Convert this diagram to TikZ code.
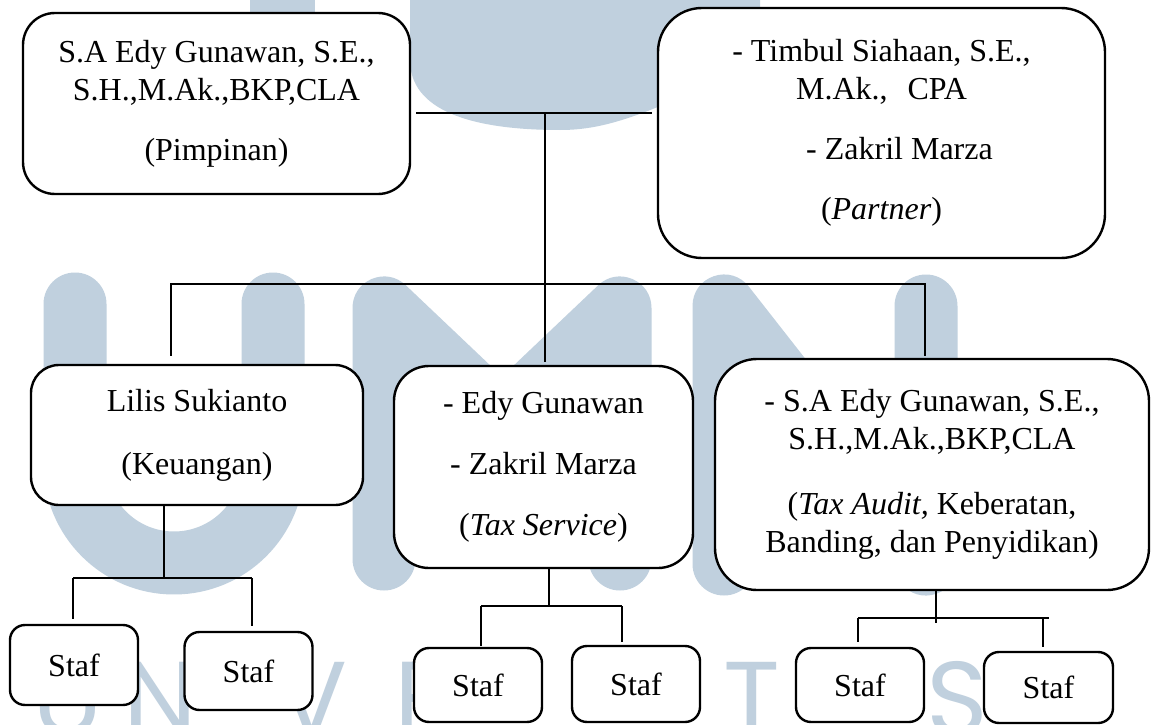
\documentclass[tikz,border=0pt]{standalone}
\usepackage{fontspec}
\setmainfont{Liberation Serif}
\newfontfamily\wmfont{Poppins}
\definecolor{wmblue}{RGB}{192,208,222}
\begin{document}
\begin{tikzpicture}[x=1pt,y=-1pt,
  box/.style={draw=black, line width=2.4pt, fill=white, rounded corners=#1,
    align=center, inner sep=0pt, font=\fontsize{32}{38}\selectfont},
  staf/.style={box=15pt, minimum width=128pt},
  conn/.style={draw=black, line width=1.3pt},
  wmstroke/.style={draw=wmblue, line width=63pt, line cap=round, line join=round},
  wmtext/.style={text=wmblue, font=\wmfont\fontsize{105}{105}\selectfont, anchor=base, inner sep=0pt}]
\clip (0,0) rectangle (1152,725);
\fill[white] (0,0) rectangle (1152,725);
% watermark
\fill[wmblue] (250,0) rectangle (315,30);
\fill[wmblue] (410,0) -- (410,60) .. controls (410,110) and (470,130) .. (560,130)
  .. controls (610,130) and (650,112) .. (760,62) -- (760,0) -- cycle;
\draw[wmstroke] (75,304) -- (75,464) .. controls (75,518.7) and (119.3,563) .. (174,563)
  .. controls (228.7,563) and (273,518.7) .. (273,464) -- (273,304);
\draw[wmstroke] (384,559) -- (384,308) -- (502,420) -- (620,308) -- (620,559);
\draw[wmstroke] (724,564) -- (724,306) -- (926,564) -- (926,306);
\node[wmtext] (w1) at (68,735) {U};
\node[wmtext] (w2) at (160,735) {N};
\node[wmtext] (w4) at (312,735) {V};
\node[wmtext] (w5) at (421,735) {E};
\node[wmtext] (w9) at (752,735) {T};
\node[wmtext] (w11) at (957,735) {S};
% boxes
\node[box=32pt, minimum width=387pt, minimum height=181pt] (B1) at (216.5,103.5)
  {S.A Edy Gunawan, S.E.,\\ S.H.,M.Ak.,BKP,CLA\\[22pt] (Pimpinan)};
\node[box=44pt, minimum width=447pt, minimum height=250pt] (B2) at (881.5,133)
  {- Timbul Siahaan, S.E.,\\ M.Ak.,\hspace{20pt}CPA\\[22pt] \hspace*{36pt}- Zakril Marza\\[22pt] (\textit{Partner})};
\node[box=28pt, minimum width=332pt, minimum height=140pt] (B3) at (197,435)
  {Lilis Sukianto\\[25pt] (Keuangan)};
\node[box=35pt, minimum width=299pt, minimum height=202pt] (B4) at (543.5,467)
  {- Edy Gunawan\\[23pt] - Zakril Marza\\[23pt] (\textit{Tax Service})};
\node[box=42pt, minimum width=434pt, minimum height=231pt] (B5) at (932,474.5)
  {- S.A Edy Gunawan, S.E.,\\ S.H.,M.Ak.,BKP,CLA\\[27pt] (\textit{Tax Audit,} Keberatan,\\ Banding, dan Penyidikan)};
\node[staf, minimum height=80pt] (S1) at (74,665) {Staf};
\node[staf, minimum height=78pt] (S2) at (248.5,671) {Staf};
\node[staf, minimum height=74pt] (S3) at (478,685) {Staf};
\node[staf, minimum height=76pt] (S4) at (636,684) {Staf};
\node[staf, minimum height=74pt] (S5) at (860,685) {Staf};
\node[staf, minimum height=71pt, minimum width=129pt] (S6) at (1048.5,687.5) {Staf};
% connectors
\coordinate (j0) at (545,113);
\draw[conn, shorten <=5pt, shorten >=5pt] (B1.east |- j0) -- (B2.west |- j0);
\draw[conn, shorten >=3pt] (j0) -- (B4.north -| j0);
\coordinate (j1L) at (171,284);
\coordinate (j1R) at (925,284);
\draw[conn, shorten <=8pt, shorten >=2pt] (B3.north -| j1L) -- (j1L) -- (j1R) -- (B5.north -| j1R);
\coordinate (j2) at (164,578);
\coordinate (j2a) at (73,578);
\coordinate (j2b) at (252,578);
\draw[conn] (B3.south -| j2) -- (j2);
\draw[conn] (j2a) -- (j2b);
\draw[conn, shorten >=5pt] (j2a) -- (S1.north -| j2a);
\draw[conn, shorten >=5pt] (j2b) -- (S2.north -| j2b);
\coordinate (j3) at (549,606);
\coordinate (j3a) at (481,606);
\coordinate (j3b) at (622,606);
\draw[conn] (B4.south -| j3) -- (j3);
\draw[conn] (j3a) -- (j3b);
\draw[conn, shorten >=1pt] (j3a) -- (S3.north -| j3a);
\draw[conn, shorten >=3pt] (j3b) -- (S4.north -| j3b);
\coordinate (j4) at (936,618);
\coordinate (j4a) at (858,618);
\coordinate (j4b) at (1043,618);
\draw[conn, shorten >=-5pt] (B5.south -| j4) -- (j4);
\draw[conn, shorten >=-6pt] (j4a) -- (j4b);
\draw[conn, shorten >=5pt] (j4a) -- (S5.north -| j4a);
\draw[conn, shorten >=4pt] (j4b) -- (S6.north -| j4b);
\end{tikzpicture}
\end{document}
